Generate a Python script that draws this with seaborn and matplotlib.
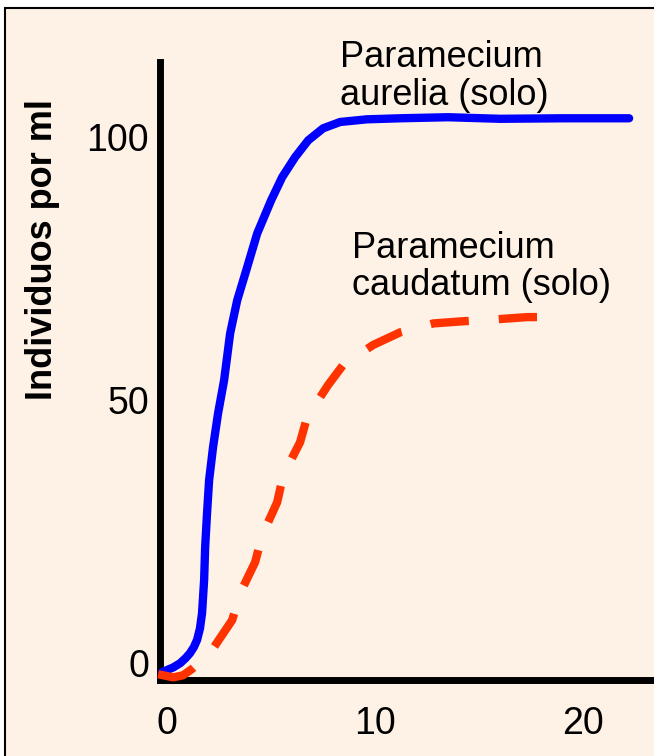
import matplotlib
matplotlib.use("Agg")
import matplotlib.pyplot as plt
from matplotlib.patches import Rectangle
import pandas as pd
import seaborn as sns

# Growth of each Paramecium species cultured alone (days vs. individuals per ml)
aurelia_days = [-0.24, 0.0, 0.3, 0.63, 0.9, 1.1, 1.28, 1.44, 1.58, 1.68, 1.78,
                1.83, 1.92, 2.02, 2.21, 2.45, 2.74, 3.03, 3.37, 3.85, 4.33, 5.0,
                5.53, 6.15, 6.78, 7.5, 8.32, 9.6, 11.2, 13.5, 16.0, 19.0, 22.2]
aurelia_count = [-1.7, -1.3, -0.8, 0.0, 1.0, 1.9, 3.0, 4.4, 6.6, 9.5, 15.8,
                 22.1, 28.5, 34.8, 41.1, 47.5, 53.8, 62.7, 69.0, 75.3, 81.7, 88.0,
                 92.4, 96.2, 99.4, 101.7, 102.9, 103.4, 103.6, 103.8, 103.5, 103.6,
                 103.6]

caudatum_days = [-0.43, 0.29, 0.77, 1.2, 2.16, 3.13, 3.51, 4.23, 4.57, 5.29,
                 5.58, 6.39, 6.73, 7.74, 8.46, 9.9, 11.2, 12.8, 14.2, 15.9,
                 17.3, 18.9]
caudatum_count = [-2.1, -2.7, -2.3, -1.1, 2.5, 8.2, 13.3, 19.2, 24.3, 30.6,
                  35.7, 42.0, 46.8, 52.9, 56.7, 60.5, 62.9, 64.6, 65.0, 65.4,
                  65.8, 65.8]

x_ticks = [0, 10, 20]
y_ticks = [0, 50, 100]
y_label = "Individuos por ml"
label_aurelia = "Paramecium\naurelia (solo)"
label_caudatum = "Paramecium\ncaudatum (solo)"

aurelia = pd.DataFrame({"dia": aurelia_days, "individuos": aurelia_count})
caudatum = pd.DataFrame({"dia": caudatum_days, "individuos": caudatum_count})

sns.set_theme(style="ticks")
plt.rcParams["font.family"] = ["Liberation Sans", "DejaVu Sans"]

PEACH = "#FEF1E6"
fig = plt.figure(figsize=(6.54, 7.56), dpi=100, facecolor="white")
# framed panel behind the chart
fig.patches.append(Rectangle((5 / 654, -0.05), 1.1, (756 - 8) / 756 + 0.05,
                             transform=fig.transFigure, facecolor=PEACH,
                             edgecolor="black", linewidth=1.5, zorder=-5))

ax = fig.add_axes([160 / 654, 76 / 756, 492 / 654, 618 / 756])
ax.set_zorder(2)
ax.set_facecolor("none")

sns.lineplot(data=aurelia, x="dia", y="individuos", ax=ax, color="#0000FF",
             linewidth=6, estimator=None, sort=False, clip_on=False, zorder=3)
sns.lineplot(data=caudatum, x="dia", y="individuos", ax=ax, color="#FF3300",
             linewidth=6, estimator=None, sort=False, clip_on=False, zorder=3)
blue, red = ax.lines[0], ax.lines[1]
blue.set_solid_joinstyle("round")
red.set_linestyle((0, (4.6, 3.6)))
red.set_dash_capstyle("butt")

ax.set_xlim(-0.34, 23.3)
ax.set_ylim(-3.2, 114.3)
ax.set_xticks(x_ticks)
ax.set_yticks(y_ticks)
ax.set_xticklabels([str(v) for v in x_ticks])
ax.set_yticklabels([str(v) for v in y_ticks])
ax.tick_params(axis="both", length=0, labelsize=27, colors="black")
ax.tick_params(axis="x", pad=19)
ax.tick_params(axis="y", pad=8)

for side in ("top", "right"):
    ax.spines[side].set_visible(False)
for side in ("left", "bottom"):
    ax.spines[side].set_linewidth(5)
    ax.spines[side].set_color("black")
    ax.spines[side].set_capstyle("projecting")

ax.set_xlabel("")
ax.set_ylabel("")
fig.text(43 / 654, 1 - 250 / 756, y_label, rotation=90, ha="center",
         va="center", fontsize=26, fontweight="bold", color="black")

ax.text(8.3, 111.6, label_aurelia, fontsize=26, ha="left", va="center",
        linespacing=1.1, color="black")
ax.text(8.9, 75.3, label_caudatum, fontsize=26, ha="left", va="center",
        linespacing=1.1, color="black")

fig.savefig("out.png", dpi=100, facecolor=fig.get_facecolor())
